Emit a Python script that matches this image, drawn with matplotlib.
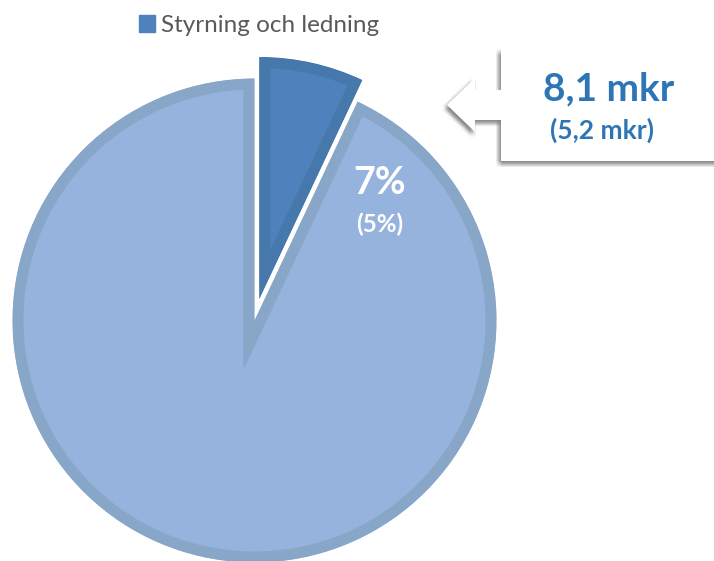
import matplotlib.pyplot as plt
import matplotlib.patches as mpatches
from matplotlib.patches import Polygon

labels = ['Styrning och ledning', 'Övrigt']
shares = [7, 93]
pct_text = '7%'
pct_prev_text = '(5%)'
amount_text = '8,1 mkr'
amount_prev_text = '(5,2 mkr)'

W, H = 714, 561
fig = plt.figure(figsize=(W / 100, H / 100), dpi=100)
ax = fig.add_axes([0, 0, 1, 1])

cx, cy, R = 254.5, H - 320.5, 242
fills = ['#4F81BD', '#95B3DC']
bands = ['#4678AC', '#87A6C8']
blue_txt = '#2E75B6'

wedges, _ = ax.pie(shares, center=(cx, cy), radius=R, startangle=90,
                   counterclock=False, explode=[22, 0], colors=fills, frame=True,
                   wedgeprops=dict(linewidth=15.8, joinstyle='miter'))
for w, ec in zip(wedges, bands):
    w.set_edgecolor(ec)
    w.set_clip_path(w)   # band only inside the slice
    w.set_clip_on(True)

ax.set_xlim(0, W)
ax.set_ylim(0, H)
ax.axis('off')

# percent labels
ax.text(380, H - 183, pct_text, color='white', fontsize=27, fontweight='bold',
        family='Lato', ha='center', va='center')
ax.text(380, H - 224, pct_prev_text, color='white', fontsize=17.5, fontweight='bold',
        family='Lato', ha='center', va='center')

# callout with arrow, soft shadow below
pts = [(447, 105), (475, 78), (475, 90), (501, 90), (501, 49), (730, 49),
       (730, 161), (501, 161), (501, 120), (475, 120), (475, 132)]
pts = [(x, H - y) for x, y in pts]
for dx in range(-4, 3):
    for dy in range(0, 7):
        ax.add_patch(Polygon([(x + dx - 1, y - dy) for x, y in pts],
                             closed=True, fc='black', ec='none', alpha=0.012))
ax.add_patch(Polygon(pts, closed=True, fc='white', ec='none'))
ax.text(609, H - 89, amount_text, color=blue_txt, fontsize=28, fontweight='bold',
        family='Lato', ha='center', va='center')
ax.text(602, H - 130, amount_prev_text, color=blue_txt, fontsize=19, fontweight='bold',
        family='Lato', ha='center', va='center')

leg = ax.legend([mpatches.Patch(color=fills[0])], [labels[0]], loc='upper left',
                bbox_to_anchor=(139 / W, 1 - 15 / H), frameon=False,
                handlelength=0.65, handleheight=0.65, handletextpad=0.25,
                borderpad=0, borderaxespad=0, prop={'family': 'Lato', 'size': 17.5})
for t in leg.get_texts():
    t.set_color('#595959')

fig.savefig('out.png', dpi=100)
